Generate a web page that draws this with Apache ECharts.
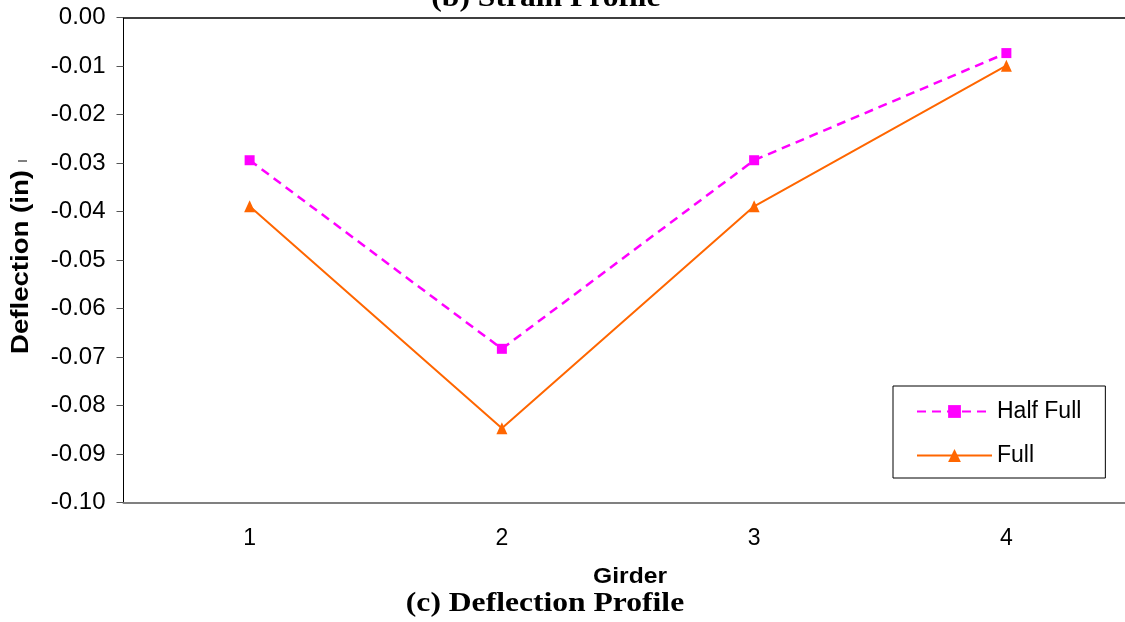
<!DOCTYPE html>
<html>
<head>
<meta charset="utf-8">
<script src="https://cdn.jsdelivr.net/npm/echarts@6/dist/echarts.min.js"></script>
<style>html,body{margin:0;padding:0;background:#fff}#c{width:1125px;height:622px}</style>
</head>
<body>
<div id="c"></div>
<script>
const categories = ['1', '2', '3', '4'];
const halfFull = [-0.0294, -0.0683, -0.0294, -0.0073];
const full = [-0.0389, -0.0847, -0.0389, -0.0099];
const yMin = -0.10, yMax = 0.00, yStep = 0.01;

const chart = echarts.init(document.getElementById('c'));
const sans = 'Liberation Sans';
const serif = 'Liberation Serif';
chart.setOption({
  animation: false,
  backgroundColor: '#fff',
  grid: { left: 123.5, top: 17.7, width: 1009, height: 484.8, outerBoundsMode: 'none', containLabel: false },
  legend: {
    orient: 'vertical',
    left: 893, top: 386,
    padding: [14, 24, 11, 23],
    itemWidth: 75, itemHeight: 16, itemGap: 21,
    borderColor: '#000', borderWidth: 1,
    textStyle: { fontFamily: sans, fontSize: 23, color: '#000' },
    data: ['Half Full', 'Full']
  },
  xAxis: [{
    type: 'category', data: categories, position: 'bottom',
    axisLine: { onZero: false, lineStyle: { color: '#808080', width: 2 } },
    axisTick: { show: false },
    axisLabel: { fontFamily: sans, fontSize: 23, color: '#000', margin: 25 },
    splitLine: { show: false }
  }, {
    type: 'category', data: categories, position: 'top',
    axisLine: { onZero: false, lineStyle: { color: '#000', width: 1.5 } },
    axisTick: { show: false }, axisLabel: { show: false }, splitLine: { show: false }
  }],
  yAxis: {
    type: 'value', min: yMin, max: yMax, interval: yStep,
    axisLine: { show: true, onZero: false, lineStyle: { color: '#000', width: 1 } },
    axisTick: { show: true, length: 7, lineStyle: { color: '#555', width: 1 } },
    axisLabel: { fontFamily: sans, fontSize: 24, color: '#000', margin: 18,
      formatter: v => v.toFixed(2) },
    splitLine: { show: false }
  },
  series: [{
    name: 'Half Full', type: 'line', data: halfFull,
    symbol: 'rect', symbolSize: 10,
    itemStyle: { color: '#FF00FF' },
    lineStyle: { color: '#FF00FF', width: 2.5, type: [9, 6] }
  }, {
    name: 'Full', type: 'line', data: full,
    symbol: 'triangle', symbolSize: [11, 12],
    itemStyle: { color: '#FF6600' },
    lineStyle: { color: '#FF6600', width: 2, type: 'solid' }
  }],
  graphic: [
    { type: 'text', x: 546, y: -1, scaleX: 1.17,
      style: { text: '(b) Strain Profile', font: 'bold 27px ' + serif, fill: '#000', textAlign: 'center', textVerticalAlign: 'middle' } },
    { type: 'text', x: 545, y: 604, scaleX: 1.17,
      style: { text: '(c) Deflection Profile', font: 'bold 27px ' + serif, fill: '#000', textAlign: 'center', textVerticalAlign: 'middle' } },
    { type: 'text', x: 630, y: 577, scaleX: 1.12,
      style: { text: 'Girder', font: 'bold 22px ' + sans, fill: '#000', textAlign: 'center', textVerticalAlign: 'middle' } },
    { type: 'text', x: 22, y: 262, rotation: Math.PI / 2, scaleX: 1.2,
      style: { text: 'Deflection (in)', font: 'bold 23px ' + sans, fill: '#000', textAlign: 'center', textVerticalAlign: 'middle' } },
    { type: 'line', shape: { x1: 18, y1: 161, x2: 27, y2: 161 }, style: { stroke: '#000', lineWidth: 1 } }
  ]
});
</script>
</body>
</html>
